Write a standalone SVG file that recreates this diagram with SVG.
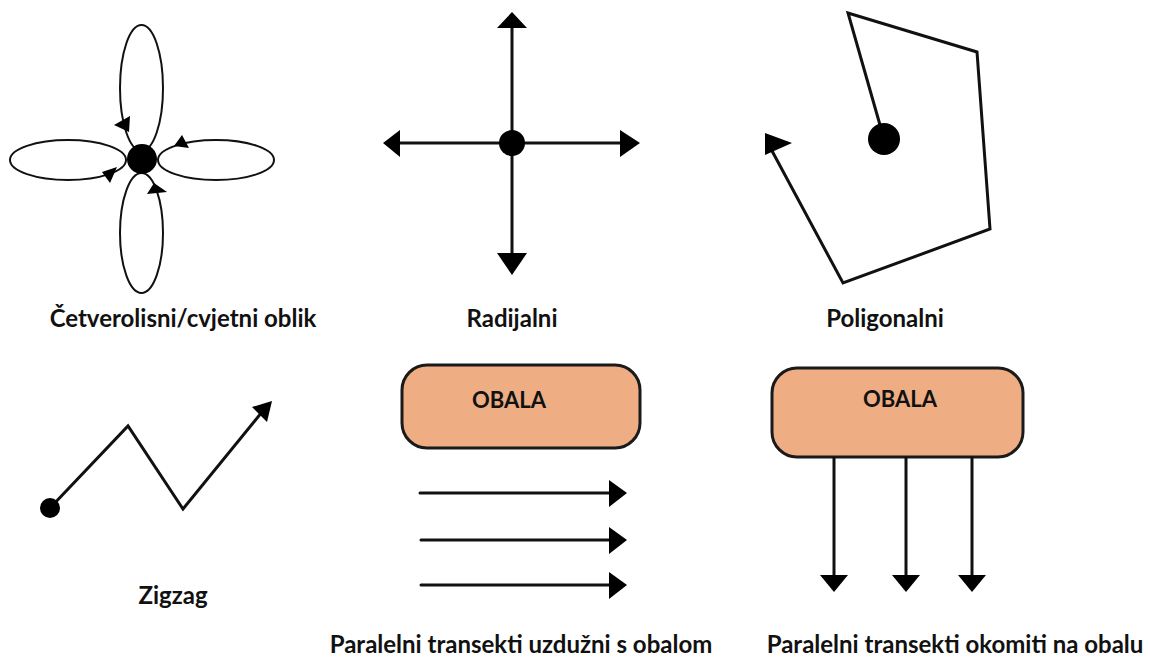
<svg xmlns="http://www.w3.org/2000/svg" width="1150" height="659" viewBox="0 0 1150 659">
<style>
.bg{fill:#ffffff}
.ln{fill:none;stroke:#111;stroke-width:3;stroke-linecap:round;stroke-linejoin:miter}
.thin{fill:none;stroke:#111;stroke-width:2}
.hd{fill:#000;stroke:none}
.dot{fill:#000}
.lbl{font-family:Lato,"Liberation Sans",sans-serif;font-weight:700;font-size:24px;fill:#111;text-anchor:middle}
.obala{font-family:Lato,"Liberation Sans",sans-serif;font-weight:700;font-size:22px;fill:#111;text-anchor:middle}
.box{fill:#EEAD82;stroke:#1a1a1a;stroke-width:3}
</style>
<rect class="bg" x="0" y="0" width="1150" height="659"/>

<g id="flower">
  <ellipse class="thin" cx="141.5" cy="88" rx="21.5" ry="63"/>
  <ellipse class="thin" cx="141.5" cy="233" rx="21.5" ry="60"/>
  <ellipse class="thin" cx="68" cy="160" rx="58" ry="20"/>
  <ellipse class="thin" cx="216" cy="160" rx="58" ry="20"/>
  <polygon class="hd" points="114,125 130,116 129,132"/>
  <polygon class="hd" points="174,146 182,135 189,148"/>
  <polygon class="hd" points="102,172 117,167 110,183"/>
  <polygon class="hd" points="147,194 154,183 167,192"/>
  <circle class="dot" cx="142" cy="159" r="15"/>
</g>

<g id="radial">
  <line class="ln" x1="512" y1="27" x2="512" y2="254"/>
  <line class="ln" x1="400" y1="143" x2="620" y2="143"/>
  <polygon class="hd" points="512,12 497,28 527,28"/>
  <polygon class="hd" points="512,275 497,253 527,253"/>
  <polygon class="hd" points="383,143 400,130 400,157"/>
  <polygon class="hd" points="640,143 620,130 620,157"/>
  <circle class="dot" cx="512" cy="143" r="13"/>
</g>

<g id="polygonal">
  <polyline class="ln" points="880,125 848,13 977,52 990,229 843,283 771,149"/>
  <polygon class="hd" points="765,133 765,155 792,143"/>
  <circle class="dot" cx="884" cy="139" r="16"/>
</g>

<g id="zigzag">
  <polyline class="ln" points="50,508 128,426 183,509 262,412"/>
  <polygon class="hd" points="272,401 252,407 267,422"/>
  <circle class="dot" cx="50" cy="508" r="10"/>
</g>

<g id="shore-parallel">
  <rect class="box" x="402" y="365" width="238" height="83" rx="25"/>
  <text class="obala" x="509" y="408">OBALA</text>
</g>

<g id="shore-perpendicular">
  <rect class="box" x="772" y="368" width="251" height="89" rx="25"/>
  <text class="obala" x="900" y="407">OBALA</text>
</g>

<g id="connectors">
  <line class="ln" x1="420" y1="493" x2="612" y2="493"/>
  <line class="ln" x1="421" y1="540" x2="612" y2="540"/>
  <line class="ln" x1="421" y1="585" x2="612" y2="585"/>
  <polygon class="hd" points="627,493 609,480 609,507"/>
  <polygon class="hd" points="627,540 609,527 609,554"/>
  <polygon class="hd" points="627,585 609,572 609,599"/>
  <line class="ln" x1="834" y1="458" x2="834" y2="578"/>
  <line class="ln" x1="906" y1="458" x2="906" y2="578"/>
  <line class="ln" x1="972" y1="458" x2="972" y2="578"/>
  <polygon class="hd" points="834,592 820,575 848,575"/>
  <polygon class="hd" points="906,592 892,575 920,575"/>
  <polygon class="hd" points="972,592 958,575 986,575"/>
</g>

<g id="labels">
  <text class="lbl" x="183" y="327">Četverolisni/cvjetni oblik</text>
  <text class="lbl" x="512" y="327">Radijalni</text>
  <text class="lbl" x="885" y="327">Poligonalni</text>
  <text class="lbl" x="173" y="604">Zigzag</text>
  <text class="lbl" x="521" y="653">Paralelni transekti uzdužni s obalom</text>
  <text class="lbl" x="955" y="653">Paralelni transekti okomiti na obalu</text>
</g>
</svg>
